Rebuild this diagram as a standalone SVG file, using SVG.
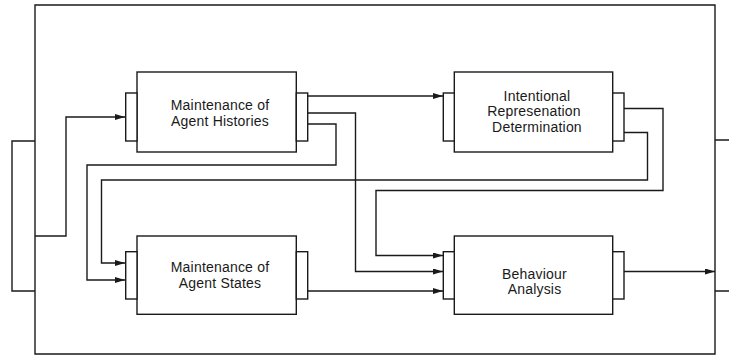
<svg xmlns="http://www.w3.org/2000/svg" width="729" height="355" viewBox="0 0 729 355">
<style>
.ln{fill:none;stroke:#1a1a1a;stroke-width:1.4}
.bx{fill:#fff;stroke:#1a1a1a;stroke-width:1.4}
.t{font-family:"Liberation Sans",Arial,sans-serif;font-size:14px;letter-spacing:0.2px;fill:#1a1a1a;text-anchor:middle}
</style>
<defs>
<marker id="ah" markerWidth="10" markerHeight="6" refX="10" refY="3" orient="auto" markerUnits="userSpaceOnUse">
<path d="M0,0 L10,3 L0,6 Z" fill="#1a1a1a"/>
</marker>
</defs>
<g id="frame">
<path class="ln" d="M35,354 V5 H715 V354 Z"/>
<path class="ln" d="M35,141 H12 V291 H35"/>
<path class="ln" d="M715,140 H729 M715,291 H729"/>
</g>
<g id="connectors">
<path class="ln" d="M35,236 H66 V117 H125" marker-end="url(#ah)"/>
<path class="ln" d="M308,96 H443" marker-end="url(#ah)"/>
<path class="ln" d="M308,113 H355.5 V271.5 H443" marker-end="url(#ah)"/>
<path class="ln" d="M308,124 H336 V165 H87 V280 H125" marker-end="url(#ah)"/>
<path class="ln" d="M624,108.5 H663 V190.5 H376 V255.5 H443" marker-end="url(#ah)"/>
<path class="ln" d="M624,132.5 H647.5 V180 H101.5 V263 H125" marker-end="url(#ah)"/>
<path class="ln" d="M308,291 H443" marker-end="url(#ah)"/>
<path class="ln" d="M624,271.5 H715" marker-end="url(#ah)"/>
</g>
<g id="histories">
<rect class="bx" x="137" y="72" width="159.3" height="80"/>
<rect class="bx" x="125.7" y="93" width="11.3" height="48"/>
<rect class="bx" x="296.3" y="93" width="11.4" height="48"/>
<text class="t" x="220" y="110">Maintenance of</text>
<text class="t" x="220" y="126">Agent Histories</text>
</g>
<g id="intentional">
<rect class="bx" x="454.3" y="72" width="158.4" height="80"/>
<rect class="bx" x="443.3" y="93" width="11" height="48"/>
<rect class="bx" x="612.7" y="93" width="11.3" height="48"/>
<text class="t" x="537" y="101">Intentional</text>
<text class="t" x="534" y="116">Represenation</text>
<text class="t" x="537" y="132">Determination</text>
</g>
<g id="states">
<rect class="bx" x="137" y="236" width="159.3" height="78.3"/>
<rect class="bx" x="125.7" y="251.7" width="11.3" height="47.3"/>
<rect class="bx" x="296.3" y="251.7" width="11.4" height="47.3"/>
<text class="t" x="220" y="272">Maintenance of</text>
<text class="t" x="220" y="288">Agent States</text>
</g>
<g id="behaviour">
<rect class="bx" x="454.3" y="236" width="158.4" height="78.3"/>
<rect class="bx" x="443.3" y="251.7" width="11" height="47.3"/>
<rect class="bx" x="612.7" y="251.7" width="11.3" height="47.3"/>
<text class="t" x="534.5" y="278.5">Behaviour</text>
<text class="t" x="534.5" y="293.5">Analysis</text>
</g>
</svg>
